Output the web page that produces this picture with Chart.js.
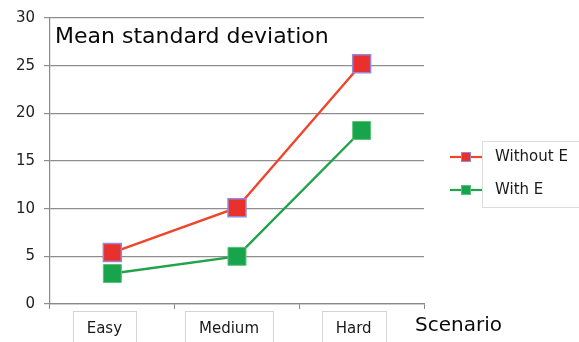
<!DOCTYPE html>
<html>
<head>
<meta charset="utf-8">
<script src="https://cdn.jsdelivr.net/npm/chart.js@4"></script>
<style>
  html, body { margin: 0; padding: 0; background: #fff; }
  #wrap { width: 579px; height: 342px; position: relative; }
</style>
</head>
<body>
<div id="wrap"><canvas id="c" width="579" height="342"></canvas></div>
<script>
// Scenario categories and the two series
const scenarios = ['Easy', 'Medium', 'Hard'];
const withoutE = [5.4, 10.1, 25.2];
const withE = [3.2, 5.0, 18.2];
const yTicks = [0, 5, 10, 15, 20, 25, 30];

const chartTitle = 'Mean standard deviation';
const xAxisName = 'Scenario';
const FONT = '"DejaVu Sans", Verdana, sans-serif';

// Title inside the plot, boxed category labels, axis name and legend
const decorations = {
  id: 'decorations',
  afterDraw(chart) {
    const ctx = chart.ctx;
    const area = chart.chartArea;
    const x = chart.scales.x;
    ctx.save();

    // title
    ctx.fillStyle = '#0a0a0a';
    ctx.font = '22px ' + FONT;
    ctx.textAlign = 'left';
    ctx.textBaseline = 'alphabetic';
    ctx.fillText(chartTitle, area.left + 5, 43);

    // category labels in framed boxes
    ctx.font = '15px ' + FONT;
    scenarios.forEach((name, i) => {
      const cx = x.getPixelForValue(i) - 8;
      const w = ctx.measureText(name).width;
      const pad = 14;
      ctx.strokeStyle = '#d4d4d4';
      ctx.lineWidth = 1;
      ctx.strokeRect(Math.round(cx - w / 2 - pad) + 0.5, 311.5, Math.round(w + 2 * pad), 40);
      ctx.fillStyle = '#1a1a1a';
      ctx.textAlign = 'center';
      ctx.fillText(name, cx, 333);
    });

    // axis name
    ctx.font = '20px ' + FONT;
    ctx.textAlign = 'left';
    ctx.fillStyle = '#0a0a0a';
    ctx.fillText(xAxisName, 415, 331);

    // legend
    const lx = 450, rows = [157, 190];
    ctx.strokeStyle = '#dcdcdc';
    ctx.lineWidth = 1;
    ctx.strokeRect(482.5, 141.5, 110, 66);
    chart.data.datasets.forEach((ds, i) => {
      const y = rows[i];
      ctx.strokeStyle = ds.borderColor;
      ctx.lineWidth = 2.2;
      ctx.beginPath();
      ctx.moveTo(lx, y);
      ctx.lineTo(lx + 32, y);
      ctx.stroke();
      ctx.fillStyle = ds.pointBackgroundColor;
      ctx.fillRect(lx + 11, y - 5, 10, 10);
      ctx.strokeStyle = ds.pointBorderColor;
      ctx.lineWidth = 1;
      ctx.strokeRect(lx + 11.5, y - 4.5, 9, 9);
      ctx.fillStyle = '#1a1a1a';
      ctx.font = '15px ' + FONT;
      ctx.textAlign = 'left';
      ctx.textBaseline = 'middle';
      ctx.fillText(ds.label, 495, y);
      ctx.textBaseline = 'alphabetic';
    });
    ctx.restore();
  }
};

new Chart(document.getElementById('c'), {
  type: 'line',
  data: {
    labels: scenarios,
    datasets: [
      {
        label: 'Without E',
        data: withoutE,
        borderColor: '#f0452b',
        borderWidth: 2.4,
        pointStyle: 'rect',
        pointRadius: 12.7,
        pointHoverRadius: 12.7,
        pointBackgroundColor: '#e8302c',
        pointBorderColor: '#9a86d6',
        pointBorderWidth: 1.5
      },
      {
        label: 'With E',
        data: withE,
        borderColor: '#22a24a',
        borderWidth: 2.4,
        pointStyle: 'rect',
        pointRadius: 12.7,
        pointHoverRadius: 12.7,
        pointBackgroundColor: '#17a44c',
        pointBorderColor: '#5cc27a',
        pointBorderWidth: 1
      }
    ]
  },
  options: {
    responsive: false,
    animation: false,
    layout: { padding: { top: 17, right: 155, left: 0, bottom: 0 } },
    plugins: { legend: { display: false }, tooltip: { enabled: false } },
    scales: {
      x: {
        offset: true,
        grid: { offset: true, drawOnChartArea: false, drawTicks: true, tickLength: 5, color: '#8a8a8a' },
        border: { color: '#8a8a8a', width: 1.2 },
        ticks: { color: 'rgba(0,0,0,0)', font: { size: 14, family: FONT } },
        afterFit(s) { s.height = 38; }
      },
      y: {
        min: 0,
        max: 30,
        afterBuildTicks(s) { s.ticks = yTicks.map(v => ({ value: v })); },
        grid: { color: '#8e8e8e', lineWidth: 1.2, tickLength: 6 },
        border: { color: '#8a8a8a', width: 1.2 },
        ticks: { color: '#222', padding: 9, font: { size: 15, family: FONT } },
        afterFit(s) { s.width = 50; }
      }
    }
  },
  plugins: [decorations]
});
</script>
</body>
</html>
